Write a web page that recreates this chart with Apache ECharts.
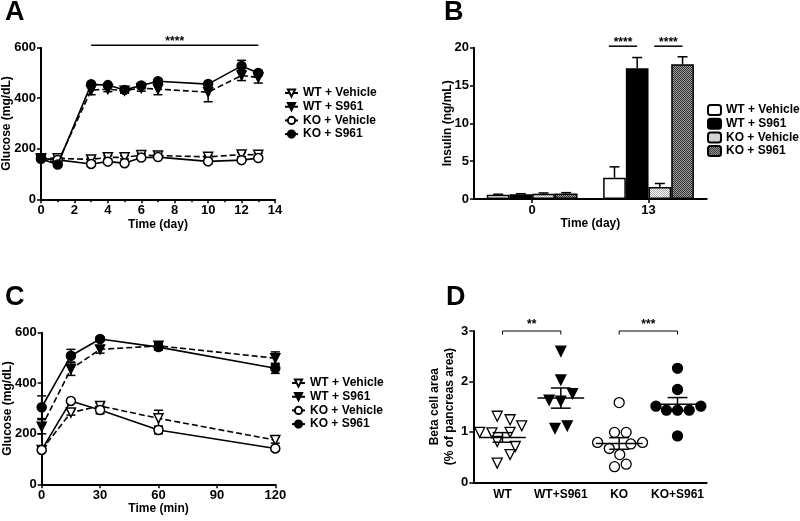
<!DOCTYPE html>
<html><head><meta charset="utf-8">
<script src="https://cdn.jsdelivr.net/npm/echarts@6/dist/echarts.min.js"></script>
<style>html,body{margin:0;padding:0;background:#fff}#c{width:800px;height:521px}</style>
</head><body><div id="c"></div>
<script>
// ---------- DATA ----------
const seriesNames = ['WT + Vehicle', 'WT + S961', 'KO + Vehicle', 'KO + S961'];
// Panel A: glucose over days
const daysA = [0, 1, 3, 4, 5, 6, 7, 10, 12, 13];
const wtVehA = [162, 162, 158, 166, 166, 175, 173, 168, 177, 176];
const wtS961A = [158, 145, 432, 436, 430, 440, 436, 424, 490, 482];
const koVehA = [162, 156, 140, 149, 143, 165, 167, 150, 155, 163];
const koS961A = [160, 138, 455, 452, 433, 450, 467, 456, 528, 500];
const wtVehAErr = [5, 5, 6, 6, 6, 6, 6, 5, 8, 6];
const wtS961AErr = [5, 5, 18, 10, 10, 12, 22, 38, 20, 22];
const koVehAErr = [5, 5, 8, 5, 5, 5, 5, 5, 6, 5];
const koS961AErr = [5, 5, 6, 5, 10, 12, 8, 6, 22, 10];
const sigA = [[3, 13, 610]];
const sigAText = ['****'];
// Panel B: insulin
const timesB = ['0', '13'];
const wtVehB = [0.55, 2.8];
const wtS961B = [0.62, 17.3];
const koVehB = [0.7, 1.6];
const koS961B = [0.72, 17.8];
const wtVehBErr = [0.08, 1.45];
const wtS961BErr = [0.08, 1.4];
const koVehBErr = [0.1, 0.45];
const koS961BErr = [0.12, 1.0];
const sigB = [[1, 0, 1, 20.2], [1, 2, 3, 20.2]];
const sigBText = ['****', '****'];
// Panel C: glucose tolerance
const timesC = [0, 15, 30, 60, 120];
const wtVehC = [136, 284, 310, 261, 175];
const wtS961C = [228, 456, 534, 548, 499];
const koVehC = [136, 330, 294, 215, 142];
const koS961C = [305, 509, 575, 543, 459];
const wtVehCErr = [8, 10, 10, 32, 12];
const wtS961CErr = [28, 25, 15, 12, 25];
const koVehCErr = [6, 5, 15, 15, 8];
const koS961CErr = [45, 25, 8, 12, 20];
// Panel D: beta cell area
const groupsD = ['WT', 'WT+S961', 'KO', 'KO+S961'];
const wtD = [1.31, 1.24, 1.12, 0.99, 0.98, 0.99, 0.81, 0.71, 0.55, 0.38];
const wtDJitter = [-0.09, 0.13, 0.33, -0.39, -0.18, 0.13, -0.09, 0.22, 0.13, -0.09];
const wtS961D = [2.60, 2.03, 1.63, 1.61, 1.76, 1.07, 1.12];
const wtS961DJitter = [0, 0, -0.2, 0, 0.2, -0.1, 0.11];
const koD = [1.58, 0.99, 0.99, 0.79, 0.79, 0.67, 0.76, 0.55, 0.31, 0.36];
const koDJitter = [0, -0.08, 0.12, -0.37, 0.40, -0.17, 0.20, 0.01, -0.08, 0.12];
const koS961D = [2.26, 1.84, 1.51, 1.43, 1.43, 1.43, 1.51, 0.92];
const koS961DJitter = [0, 0, -0.37, -0.19, 0, 0.2, 0.4, 0];
const meanD = [0.89, 1.67, 0.77, 1.55];
const semD = [0.095, 0.2, 0.115, 0.13];
const sigD = [[0, 1, 3.0], [2, 3, 3.0]];
const sigDText = ['**', '***'];

// ---------- STYLE HELPERS ----------
const FONT = '"Liberation Sans", Arial, Helvetica, sans-serif';
const lab = {color: '#000', fontFamily: FONT, fontWeight: 'bold', fontSize: 12};
const tickLab = Object.assign({}, lab, {fontSize: 13});
function axisBase(extra) {
  return Object.assign({
    axisLine: {show: true, onZero: false, lineStyle: {color: '#000', width: 2}},
    axisTick: {show: true, length: 4, lineStyle: {color: '#000', width: 1.5}},
    axisLabel: Object.assign({margin: 5}, tickLab),
    splitLine: {show: false},
    nameTextStyle: lab,
    nameLocation: 'middle',
    nameMoveOverlap: false
  }, extra);
}
function pattern(c1, c2) {
  const cv = document.createElement('canvas');
  cv.width = 2; cv.height = 2;
  const ctx = cv.getContext('2d');
  ctx.fillStyle = c1; ctx.fillRect(0, 0, 2, 2);
  ctx.fillStyle = c2; ctx.fillRect(0, 0, 1, 1); ctx.fillRect(1, 1, 1, 1);
  return {image: cv, repeat: 'repeat'};
}
const markerDefs = [
  {symbol: 'triangle', rotate: 180, fill: '#fff', size: 9, dash: [6, 3]},
  {symbol: 'triangle', rotate: 180, fill: '#000', size: 9, dash: [6, 3]},
  {symbol: 'circle', rotate: 0, fill: '#fff', size: 9, dash: 'solid'},
  {symbol: 'circle', rotate: 0, fill: '#000', size: 9, dash: 'solid'}
];
function lineSeries(k, xs, ys, ax) {
  const m = markerDefs[k];
  return {
    type: 'line', name: seriesNames[k], xAxisIndex: ax, yAxisIndex: ax === 2 ? 2 : 0,
    data: xs.map((x, i) => [x, ys[i]]),
    symbol: m.symbol, symbolRotate: m.rotate, symbolSize: m.size, showSymbol: true,
    lineStyle: {color: '#000', width: 1.6, type: m.dash},
    itemStyle: {color: m.fill, borderColor: '#000', borderWidth: 1.5},
    z: 3 + k, animation: false, silent: true
  };
}
function errSeries(xs, ys, es, ax, yi) {
  return {
    type: 'custom', name: 'err', xAxisIndex: ax, yAxisIndex: yi,
    data: xs.map((x, i) => [x, ys[i] - es[i], ys[i] + es[i]]),
    encode: {x: 0, y: [1, 2]}, z: 2, silent: true, animation: false,
    renderItem: function (params, api) {
      const a = api.coord([api.value(0), api.value(1)]);
      const b = api.coord([api.value(0), api.value(2)]);
      const st = {stroke: '#000', lineWidth: 1.5};
      const h = 4.5;
      return {type: 'group', children: [
        {type: 'line', shape: {x1: a[0], y1: a[1], x2: b[0], y2: b[1]}, style: st},
        {type: 'line', shape: {x1: a[0] - h, y1: a[1], x2: a[0] + h, y2: a[1]}, style: st},
        {type: 'line', shape: {x1: b[0] - h, y1: b[1], x2: b[0] + h, y2: b[1]}, style: st}
      ]};
    }
  };
}
const BAR_GAP = 0.22;
function barErrSeries(k, vals, errs) {
  return {
    type: 'custom', name: 'berr', xAxisIndex: 1, yAxisIndex: 1,
    data: vals.map((v, i) => [i, v, v + errs[i]]),
    encode: {x: 0, y: [1, 2]}, z: 1, silent: true, animation: false,
    renderItem: function (params, api) {
      const band = api.size([1, 0])[0];
      const bw = band * (1 - BAR_GAP) / 4;
      const a = api.coord([api.value(0), api.value(1)]);
      const b = api.coord([api.value(0), api.value(2)]);
      const x = a[0] + (k - 1.5) * bw;
      const st = {stroke: '#000', lineWidth: 1.5};
      const h = 5;
      return {type: 'group', children: [
        {type: 'line', shape: {x1: x, y1: a[1], x2: x, y2: b[1]}, style: st},
        {type: 'line', shape: {x1: x - h, y1: b[1], x2: x + h, y2: b[1]}, style: st}
      ]};
    }
  };
}
const patKOVeh = pattern('#ffffff', '#a8a8a8');
const patKOS = pattern('#a0a0a0', '#303030');
const barFills = ['#ffffff', '#000000', patKOVeh, patKOS];
const barData = [wtVehB, wtS961B, koVehB, koS961B];
const barErr = [wtVehBErr, wtS961BErr, koVehBErr, koS961BErr];

const chart = echarts.init(document.getElementById('c'), null, {renderer: 'canvas'});

const series = [];
// A
const aData = [wtVehA, wtS961A, koVehA, koS961A];
const aErr = [wtVehAErr, wtS961AErr, koVehAErr, koS961AErr];
for (let k = 0; k < 4; k++) series.push(errSeries(daysA, aData[k], aErr[k], 0, 0));
for (let k = 0; k < 4; k++) series.push(lineSeries(k, daysA, aData[k], 0));
series.push({
  type: 'custom', name: 'sigA', xAxisIndex: 0, yAxisIndex: 0, data: sigA,
  encode: {x: [0, 1], y: 2}, silent: true, animation: false, z: 10,
  renderItem: function (params, api) {
    const a = api.coord([api.value(0), api.value(2)]);
    const b = api.coord([api.value(1), api.value(2)]);
    return {type: 'group', children: [
      {type: 'line', shape: {x1: a[0], y1: a[1], x2: b[0], y2: b[1]}, style: {stroke: '#000', lineWidth: 1.5}},
      {type: 'text', x: (a[0] + b[0]) / 2, y: a[1] - 3, style: {text: sigAText[params.dataIndex], fill: '#000', font: 'bold 12px ' + FONT, align: 'center', verticalAlign: 'middle'}}
    ]};
  }
});
// B
for (let k = 0; k < 4; k++) series.push(barErrSeries(k, barData[k], barErr[k]));
for (let k = 0; k < 4; k++) series.push({
  type: 'bar', name: 'B|' + seriesNames[k], xAxisIndex: 1, yAxisIndex: 1,
  data: barData[k], barGap: '0%', barCategoryGap: (BAR_GAP * 100) + '%',
  itemStyle: {color: barFills[k], borderColor: '#000', borderWidth: 1.5},
  z: 2, silent: true, animation: false
});
series.push({
  type: 'custom', name: 'sigB', xAxisIndex: 1, yAxisIndex: 1, data: sigB,
  encode: {x: 0, y: 3}, silent: true, animation: false, z: 10,
  renderItem: function (params, api) {
    const band = api.size([1, 0])[0];
    const bw = band * (1 - BAR_GAP) / 4;
    const c = api.coord([api.value(0), api.value(3)]);
    const x1 = c[0] + (api.value(1) - 1.5) * bw - 0.25 * bw;
    const x2 = c[0] + (api.value(2) - 1.5) * bw;
    return {type: 'group', children: [
      {type: 'line', shape: {x1: x1, y1: c[1], x2: x2, y2: c[1]}, style: {stroke: '#000', lineWidth: 1.5}},
      {type: 'text', x: (x1 + x2) / 2, y: c[1] - 3, style: {text: sigBText[params.dataIndex], fill: '#000', font: 'bold 12px ' + FONT, align: 'center', verticalAlign: 'middle'}}
    ]};
  }
});
// C
const cData = [wtVehC, wtS961C, koVehC, koS961C];
const cErr = [wtVehCErr, wtS961CErr, koVehCErr, koS961CErr];
for (let k = 0; k < 4; k++) series.push(errSeries(timesC, cData[k], cErr[k], 2, 2));
for (let k = 0; k < 4; k++) series.push(lineSeries(k, timesC, cData[k], 2));
// D
const dVals = [wtD, wtS961D, koD, koS961D];
const dJit = [wtDJitter, wtS961DJitter, koDJitter, koS961DJitter];
for (let k = 0; k < 4; k++) {
  const m = markerDefs[k];
  series.push({
    type: 'scatter', name: 'D' + k, xAxisIndex: 4, yAxisIndex: 3,
    data: dVals[k].map((v, i) => [k + 0.5 + dJit[k][i], v]),
    symbol: m.symbol, symbolRotate: m.rotate, symbolSize: 10,
    itemStyle: {color: m.fill, borderColor: '#000', borderWidth: 1.3, opacity: 1},
    z: 3, silent: true, animation: false
  });
}
series.push({
  type: 'custom', name: 'meanD', xAxisIndex: 4, yAxisIndex: 3,
  data: meanD.map((m, i) => [i + 0.5, m, m - semD[i], m + semD[i]]),
  encode: {x: 0, y: [1, 2, 3]}, silent: true, animation: false, z: 5,
  renderItem: function (params, api) {
    const x = api.value(0);
    const st = {stroke: '#000', lineWidth: 1.5};
    const m1 = api.coord([x - 0.4, api.value(1)]), m2 = api.coord([x + 0.4, api.value(1)]);
    const lo = api.coord([x, api.value(2)]), hi = api.coord([x, api.value(3)]);
    const s = api.size([0.17, 0])[0];
    return {type: 'group', children: [
      {type: 'line', shape: {x1: m1[0], y1: m1[1], x2: m2[0], y2: m2[1]}, style: st},
      {type: 'line', shape: {x1: lo[0], y1: lo[1], x2: hi[0], y2: hi[1]}, style: st},
      {type: 'line', shape: {x1: lo[0] - s, y1: lo[1], x2: lo[0] + s, y2: lo[1]}, style: st},
      {type: 'line', shape: {x1: hi[0] - s, y1: hi[1], x2: hi[0] + s, y2: hi[1]}, style: st}
    ]};
  }
});
series.push({
  type: 'custom', name: 'sigD', xAxisIndex: 4, yAxisIndex: 3,
  data: sigD.map(d => [d[0] + 0.5, d[1] + 0.5, d[2]]),
  encode: {x: [0, 1], y: 2}, silent: true, animation: false, z: 10,
  renderItem: function (params, api) {
    const a = api.coord([api.value(0), api.value(2)]);
    const b = api.coord([api.value(1), api.value(2)]);
    const st = {stroke: '#000', lineWidth: 1};
    return {type: 'group', children: [
      {type: 'line', shape: {x1: a[0], y1: a[1], x2: b[0], y2: b[1]}, style: st},
      {type: 'line', shape: {x1: a[0], y1: a[1], x2: a[0], y2: a[1] + 3.5}, style: st},
      {type: 'line', shape: {x1: b[0], y1: b[1], x2: b[0], y2: b[1] + 3.5}, style: st},
      {type: 'text', x: (a[0] + b[0]) / 2, y: a[1] - 6, style: {text: sigDText[params.dataIndex], fill: '#000', font: 'bold 12px ' + FONT, align: 'center', verticalAlign: 'middle'}}
    ]};
  }
});

const titleStyle = {color: '#000', fontFamily: FONT, fontWeight: 'bold', fontSize: 27};
const legendBase = {
  orient: 'vertical', itemWidth: 13, itemHeight: 9, itemGap: 1.7,
  textStyle: lab, selectedMode: false, padding: 0
};
const gridBase = {containLabel: false, outerBoundsMode: 'none'};

chart.setOption({
  backgroundColor: '#fff',
  animation: false,
  title: [
    {text: 'A', left: 5, top: -1, textStyle: titleStyle, padding: 0},
    {text: 'B', left: 444, top: -1, textStyle: titleStyle, padding: 0},
    {text: 'C', left: 5, top: 284, textStyle: titleStyle, padding: 0},
    {text: 'D', left: 446, top: 284, textStyle: titleStyle, padding: 0}
  ],
  grid: [
    Object.assign({left: 41, top: 47.7, width: 234, height: 151.6}, gridBase),
    Object.assign({left: 474, top: 47.7, width: 232.7, height: 151.3}, gridBase),
    Object.assign({left: 41.7, top: 332.7, width: 233.6, height: 151.6}, gridBase),
    Object.assign({left: 473.3, top: 331, width: 233.4, height: 151.3}, gridBase)
  ],
  legend: [
    Object.assign({}, legendBase, {data: seriesNames, left: 284, top: 87}),
    Object.assign({}, legendBase, {data: seriesNames.map(n => 'B|' + n), left: 707, top: 104,
      itemHeight: 10, formatter: n => n.replace('B|', '')}),
    Object.assign({}, legendBase, {data: seriesNames, left: 291, top: 377})
  ],
  xAxis: [
    axisBase({type: 'value', gridIndex: 0, min: 0, max: 14, interval: 2, name: 'Time (day)', nameGap: 19,
      minorTick: {show: true, splitNumber: 2, length: 3, lineStyle: {color: '#000', width: 1.5}}}),
    axisBase({type: 'category', gridIndex: 1, data: timesB, name: 'Time (day)', nameGap: 19,
      axisTick: {show: true, alignWithLabel: true, length: 4, lineStyle: {color: '#000', width: 1.5}}}),
    axisBase({type: 'value', gridIndex: 2, min: 0, max: 120, interval: 30, name: 'Time (min)', nameGap: 18}),
    axisBase({type: 'category', gridIndex: 3, data: groupsD, axisTick: {show: false},
      axisLabel: Object.assign({margin: 6, interval: 0, hideOverlap: false}, lab)}),
    {type: 'value', gridIndex: 3, min: 0, max: 4, show: false}
  ],
  yAxis: [
    axisBase({type: 'value', gridIndex: 0, min: 0, max: 600, interval: 200, name: 'Glucose (mg/dL)', nameGap: 28}),
    axisBase({type: 'value', gridIndex: 1, min: 0, max: 20, interval: 5, name: 'Insulin (ng/mL)', nameGap: 20}),
    axisBase({type: 'value', gridIndex: 2, min: 0, max: 600, interval: 200, name: 'Glucose (mg/dL)', nameGap: 28}),
    axisBase({type: 'value', gridIndex: 3, min: 0, max: 3, interval: 1, name: 'Beta cell area\n(% of pancreas area)', nameGap: 16,
      nameTextStyle: Object.assign({lineHeight: 15}, lab)})
  ],
  series: series
});
</script>
</body></html>
